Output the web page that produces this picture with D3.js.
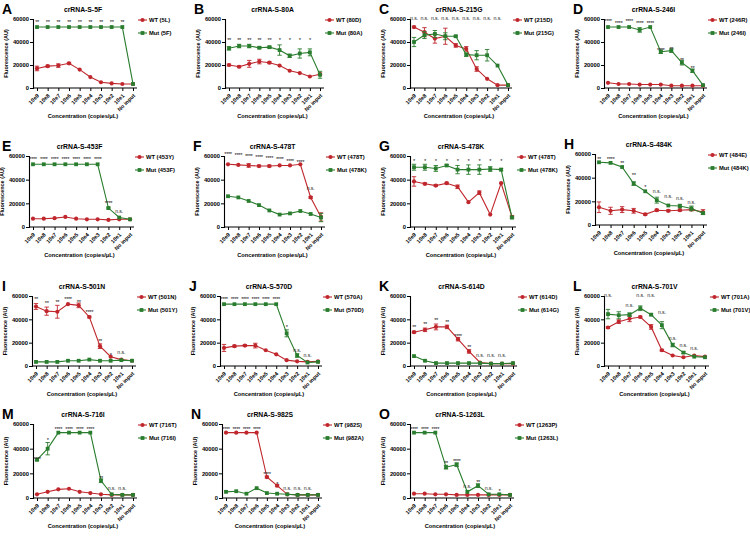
<!DOCTYPE html>
<html><head><meta charset="utf-8">
<script src="https://cdn.jsdelivr.net/npm/d3@7"></script>
<style>
body{margin:0;background:#fff;}
text{font-family:"Liberation Sans",Arial,sans-serif;font-weight:bold;}
</style></head>
<body><svg id="c" width="750" height="538"></svg>
<script>
const categories = ["10e9","10e8","10e7","10e6","10e5","10e4","10e3","10e2","10e1","No input"];
const yTicks = [0,20000,40000,60000];
const letters = ["A","B","C","D","E","F","G","H","I","J","K","L","M","N","O"];
const titles = ["crRNA-S-5F","crRNA-S-80A","crRNA-S-215G","crRNA-S-246I","crRNA-S-453F","crRNA-S-478T","crRNA-S-478K","crRNA-S-484K","crRNA-S-501N","crRNA-S-570D","crRNA-S-614D","crRNA-S-701V","crRNA-S-716I","crRNA-S-982S","crRNA-S-1263L"];
const wtNames = ["WT (5L)","WT (80D)","WT (215D)","WT (246R)","WT (453Y)","WT (478T)","WT (478T)","WT (484E)","WT (501N)","WT (570A)","WT (614D)","WT (701A)","WT (716T)","WT (982S)","WT (1263P)"];
const mutNames = ["Mut (5F)","Mut (80A)","Mut (215G)","Mut (246I)","Mut (453F)","Mut (478K)","Mut (478K)","Mut (484K)","Mut (501Y)","Mut (570D)","Mut (614G)","Mut (701V)","Mut (716I)","Mut (982A)","Mut (1263L)"];

// WT series values and errors
const wtA = [17000,19000,19500,21500,16000,9500,5000,4000,3500,3500];
const wtAerr = [2000,800,1500,800,500,500,300,300,300,300];
const wtB = [20000,18500,21000,23000,22000,19500,15000,13000,10000,12000];
const wtBerr = [800,800,3000,2000,800,500,500,500,500,1000];
const wtC = [53000,48500,43000,45000,37000,34000,16500,8000,2500,2500];
const wtCerr = [800,4000,4000,7000,1500,2000,2000,500,300,300];
const wtD = [4500,3500,3500,3000,3000,3000,2000,2000,2000,2000];
const wtDerr = [500,300,300,300,300,300,200,200,200,200];
const wtE = [7000,7000,7500,8500,7000,6500,6500,6000,6500,6500];
const wtEerr = [500,500,500,500,500,500,500,500,500,500];
const wtF = [53000,52500,52000,51500,51500,52000,52000,53000,25000,8500];
const wtFerr = [500,500,1500,800,800,500,500,500,800,3500];
const wtG = [38500,36500,35000,37000,34000,21000,29000,10500,37000,8500];
const wtGerr = [4000,800,800,800,1500,500,1500,500,500,1000];
const wtH = [15000,12000,13000,12000,9000,12500,12000,12500,13000,11000];
const wtHerr = [4500,3000,2500,2000,800,800,800,800,800,2000];
const wtI = [51000,47000,46500,53000,52000,42000,17000,8000,5500,4500];
const wtIerr = [2500,3500,5500,500,2000,800,2000,500,300,300];
const wtJ = [15500,17000,17500,17500,13500,10000,5000,4000,3500,4000];
const wtJerr = [3000,800,800,2000,500,500,300,300,300,300];
const wtK = [29000,31000,33500,33500,23000,12500,3000,2000,2000,2000];
const wtKerr = [800,1500,2500,1500,1500,1500,300,200,200,200];
const wtL = [33000,38000,40500,42000,33500,13500,9000,7500,9000,8000];
const wtLerr = [800,1500,2500,800,2000,800,500,500,500,500];
const wtM = [3000,5000,7000,7500,5000,4000,3000,2500,2500,2500];
const wtMerr = [300,300,500,300,300,300,300,200,200,200];
const wtN = [53000,53000,53000,53000,17000,10000,3000,2500,2500,2500];
const wtNerr = [300,300,300,300,800,800,300,200,200,200];
const wtO = [3500,3500,3000,3000,2500,2500,2500,2500,2500,2500];
const wtOerr = [300,300,300,300,200,200,200,200,200,200];

// Mut series values and errors
const mutA = [53000,53000,53000,53000,53000,53000,53000,53000,53000,3500];
const mutAerr = [300,300,300,300,300,300,300,300,300,300];
const mutB = [34500,36500,36500,35000,35500,33000,28000,30000,31000,11500];
const mutBerr = [1500,1500,1500,800,800,4500,1500,4000,3000,3000];
const mutC = [40000,46000,47000,45000,45000,29000,28500,28500,19500,2500];
const mutCerr = [4000,3000,3000,3000,800,1500,4000,5000,500,300];
const mutD = [53000,53000,53000,50500,53000,31500,32500,22000,15000,2500];
const mutDerr = [500,500,500,2000,500,1500,1500,2000,1500,300];
const mutE = [53000,53000,53000,53000,53000,53000,53000,16000,8000,6500];
const mutEerr = [300,300,300,300,300,300,300,800,500,500];
const mutF = [26000,25000,22000,18500,14000,10500,11500,13500,11000,8000];
const mutFerr = [500,500,500,500,500,500,500,500,500,3500];
const mutG = [50500,50500,49500,52000,48500,48500,48500,49000,48500,8000];
const mutGerr = [2500,2500,2500,800,3500,4000,4000,2000,1000,1000];
const mutH = [53000,52500,49000,35000,28500,21000,16500,16000,14000,10000];
const mutHerr = [500,500,500,1500,500,2500,500,1500,2000,800];
const mutI = [3500,3500,3500,4500,4500,5500,4500,4500,5000,4500];
const mutIerr = [300,300,300,300,300,300,300,300,300,300];
const mutJ = [53000,53000,53000,53000,53000,53000,28000,9000,3000,3500];
const mutJerr = [300,300,300,300,300,300,3000,1500,300,300];
const mutK = [8500,4500,2500,2500,2500,2500,2500,2000,2000,2500];
const mutKerr = [500,300,200,200,200,200,200,200,200,200];
const mutL = [44500,43500,44000,49500,44000,35000,18000,11500,8000,7500];
const mutLerr = [4000,3000,1500,2000,800,3000,1500,800,500,500];
const mutM = [31000,40000,53000,53000,53000,53000,14000,3000,2500,2500];
const mutMerr = [800,5000,300,300,300,300,1500,300,200,200];
const mutN = [5000,5500,3500,8000,4000,3500,3000,2500,2500,2500];
const mutNerr = [300,300,300,500,300,300,200,200,200,200];
const mutO = [53000,53000,53000,25000,27000,5000,10000,3000,3000,2500];
const mutOerr = [300,300,300,1500,1500,500,1500,300,300,200];

// significance annotations (text and y value per category)
const sigA = ["**","**","**","**","**","**","**","**","**"];
const sigAy = [58000,58000,58000,58000,58000,58000,58000,58000,58000];
const sigB = ["**","**","**","**","**","*","*","*","*"];
const sigBy = [43000,43000,43000,43000,43000,43000,43000,43000,43000];
const sigC = ["n.s.","n.s.","n.s.","n.s.","n.s.","n.s.","n.s.","n.s.","n.s."];
const sigCy = [59000,59000,59000,59000,59000,59000,59000,59000,59000];
const sigD = ["****","****","****","****","****","****","**","**","**"];
const sigDy = [59500,57000,59500,57000,57000,33500,35000,25000,18500];
const sigE = ["****","****","****","****","****","****","****","****","n.s."];
const sigEy = [58500,58500,58500,58500,58500,58500,58500,21000,11500];
const sigF = ["****","****","****","****","****","****","****","****","n.s."];
const sigFy = [62700,61900,61000,59600,59000,57900,57000,56100,31300];
const sigG = ["*","*","*","*","*","*","*","*","*"];
const sigGy = [56500,56500,56500,56500,56500,56500,56500,56500,56500];
const sigH = ["**","****","**","**","*","n.s.","n.s.","n.s.","n.s."];
const sigHy = [57000,57000,53000,43000,33000,27300,23000,20800,17400];
const sigI = ["**","**","**","****","**","****","**","*","n.s."];
const sigIy = [58000,54700,55600,58000,56100,47000,22700,10700,9900];
const sigJ = ["****","****","****","****","****","****","*","n.s.","n.s."];
const sigJy = [58200,58200,58200,58200,58200,58200,34000,12400,8000];
const sigK = ["**","**","**","**","****","**","n.s.","n.s.","n.s."];
const sigKy = [34100,37000,40700,38400,27000,17000,7900,7900,7900];
const sigL = ["n.s.","","n.s.","n.s.","n.s.","n.s.","n.s.","n.s.","n.s."];
const sigLy = [59000,0,50400,59000,59000,44700,22700,16100,14100];
const sigM = ["****","*","****","****","****","****","**","n.s.","n.s."];
const sigMy = [32500,48000,57000,57000,57000,57000,17000,6500,6500];
const sigN = ["****","****","****","****","****","*","n.s.","n.s.","n.s."];
const sigNy = [56500,56500,56500,56500,20000,12500,6500,6500,6500];
const sigO = ["****","****","****","**","****","n.s.","**","n.s.","*"];
const sigOy = [56500,56500,56500,29000,31000,8500,13500,6500,6500];

const wtVals = [wtA,wtB,wtC,wtD,wtE,wtF,wtG,wtH,wtI,wtJ,wtK,wtL,wtM,wtN,wtO];
const wtErrs = [wtAerr,wtBerr,wtCerr,wtDerr,wtEerr,wtFerr,wtGerr,wtHerr,wtIerr,wtJerr,wtKerr,wtLerr,wtMerr,wtNerr,wtOerr];
const mutVals = [mutA,mutB,mutC,mutD,mutE,mutF,mutG,mutH,mutI,mutJ,mutK,mutL,mutM,mutN,mutO];
const mutErrs = [mutAerr,mutBerr,mutCerr,mutDerr,mutEerr,mutFerr,mutGerr,mutHerr,mutIerr,mutJerr,mutKerr,mutLerr,mutMerr,mutNerr,mutOerr];
const sigTexts = [sigA,sigB,sigC,sigD,sigE,sigF,sigG,sigH,sigI,sigJ,sigK,sigL,sigM,sigN,sigO];
const sigYs = [sigAy,sigBy,sigCy,sigDy,sigEy,sigFy,sigGy,sigHy,sigIy,sigJy,sigKy,sigLy,sigMy,sigNy,sigOy];

// layout (pixel frame for each panel)
const axisX = [33,225,410,604, 29,224,410,595, 32,220,410,604, 33,222,410];
const lastX = [133,320,508,703, 130,321,512,703, 132,318,513,705, 133,318,510];
const rowTop = [19,156,296,424];
const rowZero = [88,227,366,498];

const RED = "#c0272d", GREEN = "#2a7d2e";
const svg = d3.select("#c");

for (let p = 0; p < 15; p++) {
  const row = Math.floor(p/4);
  const xl = axisX[p], xr = lastX[p];
  let yt = rowTop[row], yz = rowZero[row];
  if (p === 7) { yt -= 2; yz -= 2; }
  const x = d3.scalePoint().domain(categories).range([xl+4, xr]);
  const y = d3.scaleLinear().domain([0,60000]).range([yz, yt]);
  const g = svg.append("g");

  // letter
  g.append("text").attr("x", Math.max(2, xl - 31)).attr("y", yt - 5).attr("font-size", 14).text(letters[p]);
  // title
  g.append("text").attr("x", (xl + xr)/2).attr("y", yt - 7).attr("text-anchor","middle").attr("font-size", 6.8).text(titles[p]);

  // y axis
  const ya = g.append("g").attr("transform", `translate(${xl},0)`)
    .call(d3.axisLeft(y).tickValues(yTicks).tickSize(3).tickPadding(1).tickFormat(d3.format("d")));
  ya.selectAll("text").attr("font-size", 5.8).style("font-family","Liberation Sans").style("font-weight","bold");
  ya.select(".domain").attr("stroke-width", 1.1);
  // x axis
  const xa = g.append("g").attr("transform", `translate(0,${yz})`)
    .call(d3.axisBottom(x).tickSize(3).tickPadding(1));
  xa.select(".domain").attr("d", `M${xl},0H${xr+4}`).attr("stroke-width", 1.1);
  xa.selectAll("text").attr("font-size", 5.5).style("font-family","Liberation Sans").style("font-weight","bold")
    .attr("text-anchor","end").attr("transform","translate(-2,4) rotate(-45)").attr("dy","0.3em");

  // axis labels
  g.append("text").attr("transform", `translate(${xl-25},${(yt+yz)/2}) rotate(-90)`).attr("text-anchor","middle")
    .attr("font-size", 5.5).text("Fluorescence (AU)");
  g.append("text").attr("x", (xl+xr)/2).attr("y", yz + 30).attr("text-anchor","middle").attr("font-size", 5.7)
    .text("Concentration (copies/\u03bcL)");

  const series = [
    {vals: wtVals[p], errs: wtErrs[p], color: RED, shape: "circle"},
    {vals: mutVals[p], errs: mutErrs[p], color: GREEN, shape: "square"}
  ];
  series.forEach(s => {
    const pts = categories.map((c,i) => ({c, v: s.vals[i], e: s.errs[i]}));
    g.append("path").datum(pts).attr("fill","none").attr("stroke", s.color).attr("stroke-width", 1.1)
      .attr("d", d3.line().x(d => x(d.c)).y(d => y(d.v)));
    const eb = g.append("g").attr("stroke", s.color).attr("stroke-width", 0.9);
    pts.forEach(d => {
      if (d.e < 700) return;
      const cx = x(d.c);
      eb.append("line").attr("x1", cx).attr("x2", cx).attr("y1", y(d.v - d.e)).attr("y2", y(d.v + d.e));
      eb.append("line").attr("x1", cx-2.2).attr("x2", cx+2.2).attr("y1", y(d.v - d.e)).attr("y2", y(d.v - d.e));
      eb.append("line").attr("x1", cx-2.2).attr("x2", cx+2.2).attr("y1", y(d.v + d.e)).attr("y2", y(d.v + d.e));
    });
    pts.forEach(d => {
      if (s.shape === "circle") {
        g.append("circle").attr("cx", x(d.c)).attr("cy", y(d.v)).attr("r", 2.1).attr("fill", s.color);
      } else {
        g.append("rect").attr("x", x(d.c)-1.9).attr("y", y(d.v)-1.9).attr("width", 3.8).attr("height", 3.8).attr("fill", s.color);
      }
    });
  });

  // significance labels
  sigTexts[p].forEach((t,i) => {
    if (!t) return;
    const isStar = t.indexOf("*") >= 0;
    g.append("text").attr("x", x(categories[i])).attr("y", y(sigYs[p][i]) + (isStar ? 3 : 0))
      .attr("text-anchor","middle").attr("font-size", isStar ? 5.8 : 5.2)
      .attr("letter-spacing", isStar ? -0.4 : -0.1)
      .attr("fill", "#222")
      .style("font-weight","normal").text(t);
  });

  // legend
  const lx = xr + 5;
  [[wtNames[p], RED, "circle"], [mutNames[p], GREEN, "square"]].forEach((L, k) => {
    const ly = yt + 1 + k*13;
    g.append("line").attr("x1", lx).attr("x2", lx+9).attr("y1", ly).attr("y2", ly).attr("stroke", L[1]).attr("stroke-width", 1.1);
    if (L[2] === "circle") g.append("circle").attr("cx", lx+4.5).attr("cy", ly).attr("r", 2.1).attr("fill", L[1]);
    else g.append("rect").attr("x", lx+2.6).attr("y", ly-1.9).attr("width", 3.8).attr("height", 3.8).attr("fill", L[1]);
    g.append("text").attr("x", lx+11).attr("y", ly+2.2).attr("font-size", 5.8).text(L[0]);
  });
}
</script></body></html>
